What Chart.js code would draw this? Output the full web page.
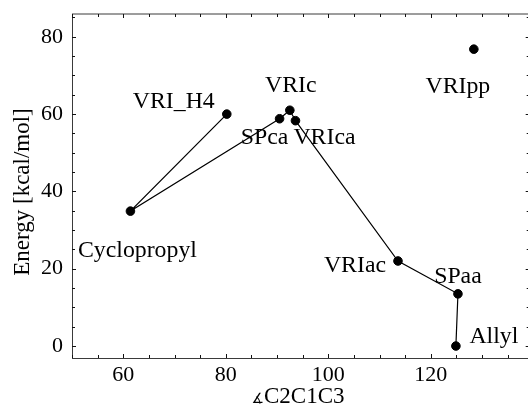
<!DOCTYPE html>
<html><head><meta charset="utf-8">
<script src="https://cdn.jsdelivr.net/npm/chart.js@4/dist/chart.umd.min.js"></script>
<style>html,body{margin:0;padding:0;background:#fff;overflow:hidden;width:528px;height:407px}canvas{display:block}</style>
</head><body>
<canvas id="c" width="535" height="407" style="width:535px;height:407px"></canvas>
<script>
const pathNames = ['VRI_H4','Cyclopropyl','SPca','VRIc','VRIca','VRIac','SPaa','Allyl'];
const pathAngles = [80.2, 61.4, 90.5, 92.5, 93.6, 113.6, 125.3, 124.9];
const pathEnergies = [60.0, 34.9, 58.8, 61.0, 58.3, 22.0, 13.5, 0.0];
const loneNames = ['VRIpp'];
const loneAngles = [128.4];
const loneEnergies = [76.8];
const xMajorTicks = [60, 80, 100, 120];
const yMajorTicks = [0, 20, 40, 60, 80];
const xTitleSymbol = '\u2221';
const xTitle = 'C2C1C3';
const yTitle = 'Energy [kcal/mol]';

// label placement (pixels: dx to text centre, dy to text baseline), relative to the point
const labelOffsets = {VRI_H4:[-53,-6], Cyclopropyl:[7,46], SPca:[-15,25], VRIc:[1,-18], VRIca:[29,23], VRIac:[-43,11], SPaa:[0,-11], Allyl:[38,-3], VRIpp:[-16,44]};

const FONT = 'Liberation Serif';
const AXIS = '#3a3a3a';

const decor = {
  id: 'decor',
  afterDraw(chart) {
    const ctx = chart.ctx, a = chart.chartArea;
    const xs = chart.scales.x, ys = chart.scales.y;
    ctx.save();
    ctx.strokeStyle = AXIS; ctx.lineWidth = 1;
    ctx.beginPath();
    ctx.moveTo(a.left + 0.5, a.top); ctx.lineTo(a.left + 0.5, a.bottom);
    ctx.moveTo(a.left, a.bottom + 0.5); ctx.lineTo(a.right, a.bottom + 0.5);
    ctx.moveTo(a.left, a.top); ctx.lineTo(a.right, a.top);
    ctx.moveTo(a.right, a.top); ctx.lineTo(a.right, a.bottom);
    ctx.stroke();
    ctx.strokeStyle = '#111';
    ctx.beginPath();
    for (let v = Math.ceil(xs.min / 5) * 5; v <= xs.max; v += 5) {
      const px = Math.round(xs.getPixelForValue(v)) + 0.5;
      const len = (v % 20 === 0) ? 4 : 3;
      ctx.moveTo(px, a.bottom); ctx.lineTo(px, a.bottom - len);
      ctx.moveTo(px, a.top); ctx.lineTo(px, a.top + len);
    }
    for (let v = Math.ceil(ys.min / 5) * 5; v <= ys.max; v += 5) {
      const py = Math.round(ys.getPixelForValue(v)) + 0.5;
      const len = (v % 20 === 0) ? 4 : 3;
      ctx.moveTo(a.left, py); ctx.lineTo(a.left + len, py);
      ctx.moveTo(a.right, py); ctx.lineTo(a.right - len, py);
    }
    ctx.stroke();
    ctx.fillStyle = '#000';
    ctx.font = '23.8px "' + FONT + '"';
    ctx.textAlign = 'center'; ctx.textBaseline = 'alphabetic';
    const put = (name, xv, yv) => {
      const o = labelOffsets[name];
      ctx.fillText(name, xs.getPixelForValue(xv) + o[0], ys.getPixelForValue(yv) + o[1]);
    };
    pathNames.forEach((n, i) => put(n, pathAngles[i], pathEnergies[i]));
    loneNames.forEach((n, i) => put(n, loneAngles[i], loneEnergies[i]));
    // x title: small angle sign followed by the name
    ctx.textAlign = 'left';
    ctx.font = '14px "DejaVu Sans"';
    const symW = ctx.measureText(xTitleSymbol).width;
    ctx.font = '23px "' + FONT + '"';
    const txtW = ctx.measureText(xTitle).width;
    const x0 = 298 - (symW + txtW) / 2;
    ctx.font = '14px "DejaVu Sans"';
    ctx.fillText(xTitleSymbol, x0, 403);
    ctx.font = '23px "' + FONT + '"';
    ctx.fillText(xTitle, x0 + symW, 403);
    ctx.textAlign = 'center';
    ctx.save();
    ctx.translate(29, (a.top + a.bottom) / 2 + 6);
    ctx.rotate(-Math.PI / 2);
    ctx.fillText(yTitle, 0, 0);
    ctx.restore();
    ctx.restore();
  }
};

function build() {
  new Chart(document.getElementById('c'), {
    type: 'scatter',
    data: {
      datasets: [
        {
          data: pathAngles.map((x, i) => ({x, y: pathEnergies[i]})),
          showLine: true, borderColor: '#000', borderWidth: 1.2,
          pointRadius: 4.3, pointBackgroundColor: '#000', pointBorderColor: '#000', pointBorderWidth: 1
        },
        {
          data: loneAngles.map((x, i) => ({x, y: loneEnergies[i]})),
          showLine: false,
          pointRadius: 4.3, pointBackgroundColor: '#000', pointBorderColor: '#000', pointBorderWidth: 1
        }
      ]
    },
    options: {
      responsive: false, animation: false, devicePixelRatio: 1,
      layout: { padding: { top: 14, right: 0, left: 0, bottom: 0 } },
      plugins: { legend: { display: false }, tooltip: { enabled: false } },
      scales: {
        x: {
          type: 'linear', min: 50, max: 139.3,
          grid: { display: false, drawTicks: false }, border: { display: false },
          afterFit: s => { s.height = 49; s.paddingLeft = 0; s.paddingRight = 0; },
          ticks: {
            stepSize: 5, autoSkip: false, maxRotation: 0, includeBounds: false, padding: 4,
            color: '#000', font: { family: FONT, size: 22 },
            callback: v => xMajorTicks.includes(v) ? String(v) : ''
          }
        },
        y: {
          type: 'linear', min: -3.1, max: 85.9,
          grid: { display: false, drawTicks: false }, border: { display: false },
          afterFit: s => { s.width = 72; s.paddingTop = 0; s.paddingBottom = 0; },
          ticks: {
            stepSize: 5, autoSkip: false, includeBounds: false, padding: 9,
            color: '#000', font: { family: FONT, size: 22 },
            callback: v => yMajorTicks.includes(v) ? String(v) : ''
          }
        }
      }
    },
    plugins: [decor]
  });
}
const fontsReady = (document.fonts && document.fonts.load)
  ? Promise.all([document.fonts.load('22px "Liberation Serif"'), document.fonts.load('14px "DejaVu Sans"')]).catch(() => {})
  : Promise.resolve();
fontsReady.then(build);
</script>
</body></html>
